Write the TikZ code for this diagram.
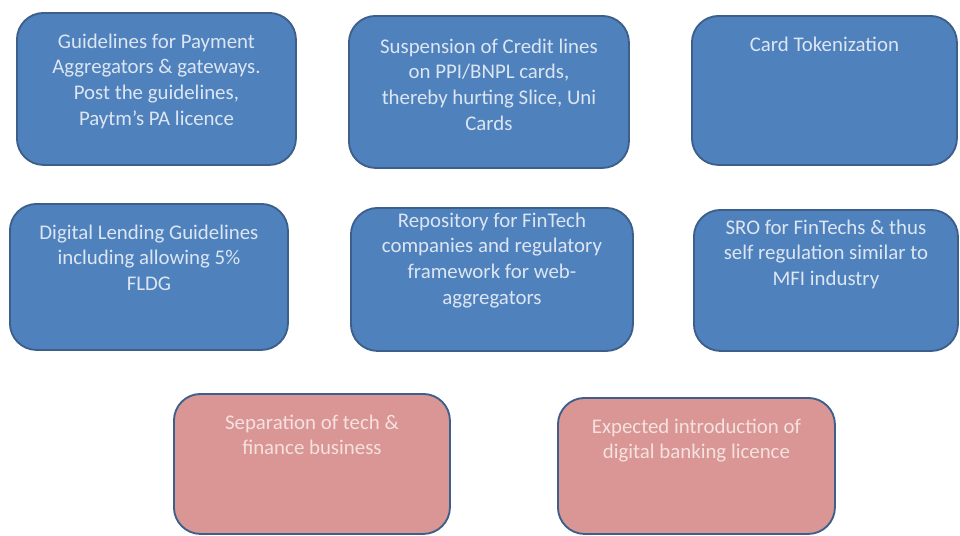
\documentclass[tikz,border=0pt]{standalone}
\usepackage{fontspec}
\setmainfont{Carlito}
\definecolor{boxblue}{HTML}{4F81BD}
\definecolor{boxedge}{HTML}{3D5F8C}
\definecolor{boxpink}{HTML}{D99694}
\definecolor{txtblue}{HTML}{DCE6F2}
\definecolor{txtpink}{HTML}{F5E1E0}
\newlength\unitpx
\setlength\unitpx{0.3mm}
% width, height, space above first line (all in px), text
\newcommand{\boxtext}[4]{\parbox[t][#2\unitpx][t]{#1\unitpx}{\centering\vspace*{#3\unitpx}#4}}
\tikzset{
  regbox/.style={draw=boxedge,line width=1.6pt,rounded corners=8mm,fill=boxblue,text=txtblue,
    anchor=north west,inner sep=0pt,font=\fontsize{17.8}{21.8}\selectfont},
  pinkbox/.style={regbox,fill=boxpink,text=txtpink}
}
\begin{document}
\begin{tikzpicture}[x=0.3mm,y=-0.3mm]
\useasboundingbox (0,0) rectangle (960,535);
% first row
\node[regbox] (payagg) at (16,12) {\boxtext{279}{152}{21}{Guidelines for Payment\\ Aggregators \& gateways.\\ Post the guidelines,\\ Paytm's PA licence}};
\node[regbox] (ppicredit) at (348,15) {\boxtext{280}{152}{23}{Suspension of Credit lines\\ on PPI/BNPL cards,\\ thereby hurting Slice, Uni\\ Cards}};
\node[regbox] (tokenize) at (691,15) {\boxtext{265}{149}{21}{Card Tokenization}};
% second row
\node[regbox] (lending) at (9,203) {\boxtext{278}{146}{21}{Digital Lending Guidelines\\ including allowing 5\%\\ FLDG}};
\node[regbox] (repository) at (350,207) {\boxtext{282}{143}{5}{Repository for FinTech\\ companies and regulatory\\ framework for web-\\ aggregators}};
\node[regbox] (sro) at (693,209) {\boxtext{264}{141}{10}{SRO for FinTechs \& thus\\ self regulation similar to\\ MFI industry}};
% expected
\node[pinkbox] (separation) at (173,393) {\boxtext{276}{140}{21}{Separation of tech \&\\ finance business}};
\node[pinkbox] (digibank) at (557,397) {\boxtext{277}{136}{21}{Expected introduction of\\ digital banking licence}};
\end{tikzpicture}
\end{document}
